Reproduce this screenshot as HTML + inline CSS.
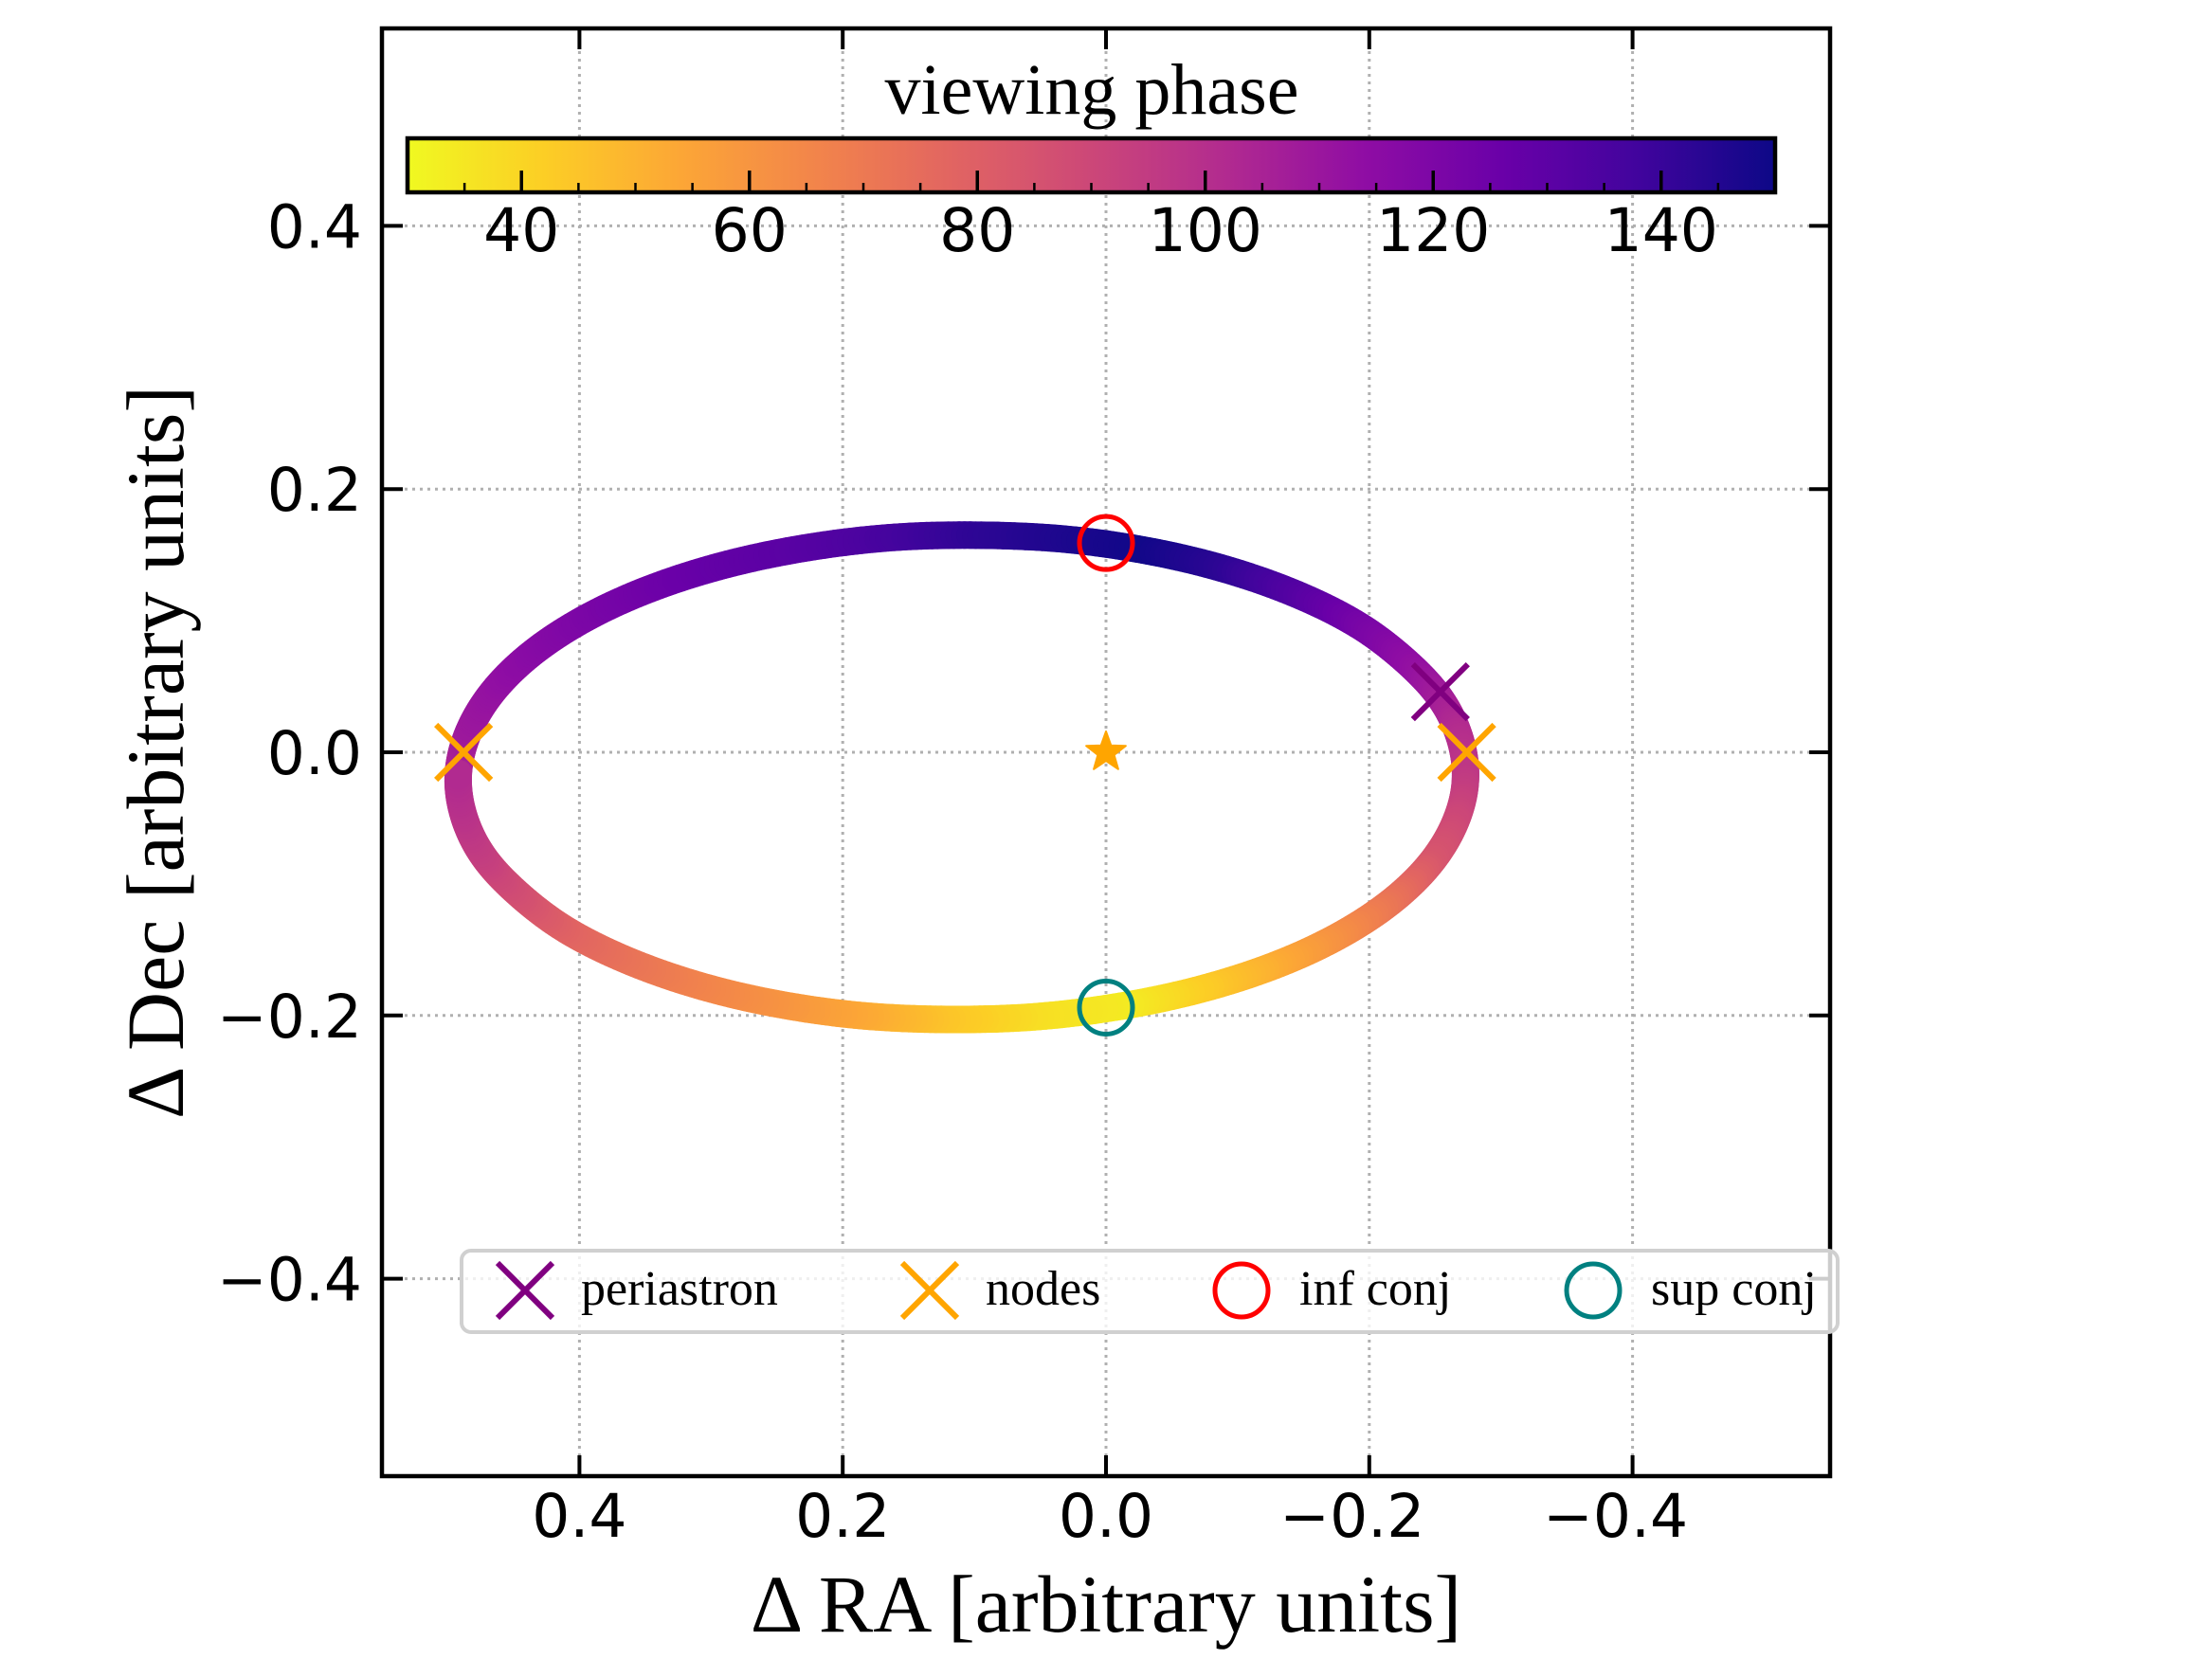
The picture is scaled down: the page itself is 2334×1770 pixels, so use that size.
<!DOCTYPE html>
<html><head><meta charset="utf-8"><style>
html,body{margin:0;padding:0;background:#fff;}
svg{display:block;}
</style></head><body>
<svg id="chart" width="2334" height="1770" viewBox="0 0 2334 1770" xmlns="http://www.w3.org/2000/svg">
<rect width="2334" height="1770" fill="#fff"/>
<g id="grid"></g>
<g id="orbit"></g>
<g id="markers"></g>
<g id="cbar"></g>
<g id="axes"></g>
<g id="legend"></g>
</svg>
<script>
// ---- data ----
const orbitRA = [0.492, 0.484, 0.465, 0.435, 0.395, 0.347, 0.291, 0.230, 0.165, 0.099, 0.032, -0.032, -0.091, -0.145, -0.191, -0.227, -0.254, -0.269, -0.273, -0.265, -0.246, -0.216, -0.176, -0.128, -0.072, -0.011, 0.054, 0.121, 0.187, 0.251, 0.310, 0.364, 0.410, 0.446, 0.473, 0.488];
const orbitDec = [-0.016, 0.016, 0.047, 0.076, 0.102, 0.124, 0.142, 0.155, 0.163, 0.165, 0.162, 0.153, 0.139, 0.120, 0.097, 0.070, 0.041, 0.010, -0.022, -0.054, -0.085, -0.114, -0.140, -0.162, -0.180, -0.193, -0.201, -0.203, -0.200, -0.191, -0.177, -0.158, -0.135, -0.108, -0.079, -0.048];
const orbitPhase = [102, 109, 112, 116, 120, 124, 128, 131, 136, 142, 146, 149, 143, 133, 123, 115, 108, 101, 96, 90, 84, 73, 63, 53, 43, 34, 37, 44, 53, 60, 66, 72, 78, 86, 93, 98];
const nodesRA = [0.488, -0.274];
const nodesDec = [0.0, 0.0];
const periRA = [-0.254];
const periDec = [0.046];
const infRA = [0.0];
const infDec = [0.159];
const supRA = [0.0];
const supDec = [-0.194];
const starRA = [0.0];
const starDec = [0.0];
const xTicks = [0.4, 0.2, 0.0, -0.2, -0.4];
const xTickLabels = ["0.4", "0.2", "0.0", "\u22120.2", "\u22120.4"];
const yTicks = [0.4, 0.2, 0.0, -0.2, -0.4];
const yTickLabels = ["0.4", "0.2", "0.0", "\u22120.2", "\u22120.4"];
const cbTicks = [40, 60, 80, 100, 120, 140];
const cbTickLabels = ["40", "60", "80", "100", "120", "140"];
const cbMin = 30, cbMax = 150;
const legendLabels = ["periastron", "nodes", "inf conj", "sup conj"];

// ---- layout ----
const L = 403, R = 1931, T = 30, B = 1558;
const X0 = 1167, Y0 = 794, S = 1389;
const xs = v => X0 - v * S;
const ys = v => Y0 - v * S;
const NS = "http://www.w3.org/2000/svg";
function mk(tag, attrs, parent) {
  const e = document.createElementNS(NS, tag);
  for (const k in attrs) e.setAttribute(k, attrs[k]);
  parent.appendChild(e);
  return e;
}
const plasma = [[0,13,8,135],[0.1,65,4,157],[0.2,106,0,168],[0.3,143,13,164],[0.4,177,42,144],[0.5,204,71,120],[0.6,225,100,98],[0.7,242,132,75],[0.8,252,166,54],[0.9,252,206,37],[1,240,249,33]];
function cmap(p) {
  let t = (cbMax - p) / (cbMax - cbMin);
  t = Math.max(0, Math.min(1, t));
  for (let i = 0; i < plasma.length - 1; i++) {
    const a = plasma[i], b = plasma[i + 1];
    if (t <= b[0]) {
      const f = (t - a[0]) / (b[0] - a[0]);
      return `rgb(${Math.round(a[1] + f * (b[1] - a[1]))},${Math.round(a[2] + f * (b[2] - a[2]))},${Math.round(a[3] + f * (b[3] - a[3]))})`;
    }
  }
  return "rgb(240,249,33)";
}

// ---- grid ----
const grid = document.getElementById("grid");
xTicks.forEach(v => {
  const g = mk("line", {x1: xs(v), x2: xs(v), y1: T, y2: B, stroke: "#b0b0b0", "stroke-width": 3, "stroke-dasharray": "3,5"}, grid);
  
  
});
yTicks.forEach(v => {
  const g = mk("line", {x1: L, x2: R, y1: ys(v), y2: ys(v), stroke: "#b0b0b0", "stroke-width": 3, "stroke-dasharray": "3,5"}, grid);
  
  
});

// ---- orbit (closed Catmull-Rom) ----
const orbit = document.getElementById("orbit");
const n = orbitRA.length;
const STEPS = 16;
for (let i = 0; i < n; i++) {
  const p0 = (i - 1 + n) % n, p1 = i, p2 = (i + 1) % n, p3 = (i + 2) % n;
  const px = [xs(orbitRA[p0]), xs(orbitRA[p1]), xs(orbitRA[p2]), xs(orbitRA[p3])];
  const py = [ys(orbitDec[p0]), ys(orbitDec[p1]), ys(orbitDec[p2]), ys(orbitDec[p3])];
  const cr = (a, t) => 0.5 * ((2 * a[1]) + (-a[0] + a[2]) * t + (2 * a[0] - 5 * a[1] + 4 * a[2] - a[3]) * t * t + (-a[0] + 3 * a[1] - 3 * a[2] + a[3]) * t * t * t);
  let prevX = cr(px, 0), prevY = cr(py, 0);
  for (let s = 1; s <= STEPS; s++) {
    const t = s / STEPS;
    const cx = cr(px, t), cy = cr(py, t);
    const ph = orbitPhase[p1] + (orbitPhase[p2] - orbitPhase[p1]) * (t - 0.5 / STEPS);
    const seg = mk("line", {x1: prevX, y1: prevY, x2: cx, y2: cy, stroke: cmap(ph), "stroke-width": 29, "stroke-linecap": "round"}, orbit);
    
    
    prevX = cx; prevY = cy;
  }
}

// ---- markers ----
const mg = document.getElementById("markers");
function xMark(cx, cy, color, parent, name) {
  const g = mk("g", {}, parent);
  
  
  const h = 29;
  mk("line", {x1: cx - h, y1: cy - h, x2: cx + h, y2: cy + h, stroke: color, "stroke-width": 6}, g);
  mk("line", {x1: cx - h, y1: cy + h, x2: cx + h, y2: cy - h, stroke: color, "stroke-width": 6}, g);
}
function oMark(cx, cy, color, parent, name) {
  const c = mk("circle", {cx: cx, cy: cy, r: 28, fill: "none", stroke: color, "stroke-width": 5}, parent);
  
  
}
periRA.forEach((v, i) => xMark(xs(v), ys(periDec[i]), "#800080", mg, "periastron-marker"));
nodesRA.forEach((v, i) => xMark(xs(v), ys(nodesDec[i]), "#ffa500", mg, "node-marker"));
infRA.forEach((v, i) => oMark(xs(v), ys(infDec[i]), "#ff0000", mg, "inf-conj-marker"));
supRA.forEach((v, i) => oMark(xs(v), ys(supDec[i]), "#008080", mg, "sup-conj-marker"));
starRA.forEach((v, i) => {
  const cx = xs(v), cy = ys(starDec[i]), ro = 22, ri = 9;
  let pts = [];
  for (let k = 0; k < 10; k++) {
    const a = -Math.PI / 2 + k * Math.PI / 5, r = k % 2 ? ri : ro;
    pts.push((cx + r * Math.cos(a)).toFixed(1) + "," + (cy + r * Math.sin(a)).toFixed(1));
  }
  const st = mk("polygon", {points: pts.join(" "), fill: "#ffa500", stroke: "#ffa500", "stroke-width": 2, "stroke-linejoin": "round"}, mg);
  
  
});

// ---- colorbar ----
const cb = document.getElementById("cbar");
const CBL = 430, CBR = 1873, CBT = 146, CBB = 203;
const cbx = v => CBL + (v - cbMin) / (cbMax - cbMin) * (CBR - CBL);
const defs = mk("defs", {}, cb);
const grad = mk("linearGradient", {id: "cbgrad", x1: "0", x2: "1", y1: "0", y2: "0"}, defs);
for (let k = 0; k <= 20; k++) {
  const p = cbMin + (cbMax - cbMin) * k / 20;
  mk("stop", {offset: (k / 20).toFixed(3), "stop-color": cmap(p)}, grad);
}
const cbr = mk("rect", {x: CBL, y: CBT, width: CBR - CBL, height: CBB - CBT, fill: "url(#cbgrad)", stroke: "#000", "stroke-width": 4.5}, cb);


for (let v = 35; v < cbMax; v += 5) {
  const major = v % 20 === 0;
  mk("line", {x1: cbx(v), x2: cbx(v), y1: CBB, y2: CBB - (major ? 23 : 10), stroke: "#000", "stroke-width": major ? 3.5 : 2.5}, cb);
}
cbTicks.forEach((v, i) => {
  const t = mk("text", {x: cbx(v), y: 265, "text-anchor": "middle", "font-family": "DejaVu Sans, Liberation Sans, sans-serif", "font-size": 63, fill: "#000"}, cb);
  t.textContent = cbTickLabels[i];
  
  
});
const cbt = mk("text", {x: 1152, y: 120, "text-anchor": "middle", "font-family": "Liberation Serif, serif", "font-size": 76, fill: "#000"}, cb);
cbt.textContent = "viewing phase";



// ---- axes ----
const ax = document.getElementById("axes");
const frame = mk("rect", {x: L, y: T, width: R - L, height: B - T, fill: "none", stroke: "#000", "stroke-width": 4.5}, ax);


xTicks.forEach((v, i) => {
  mk("line", {x1: xs(v), x2: xs(v), y1: B, y2: B - 22, stroke: "#000", "stroke-width": 4}, ax);
  mk("line", {x1: xs(v), x2: xs(v), y1: T, y2: T + 22, stroke: "#000", "stroke-width": 4}, ax);
  const t = mk("text", {x: xs(v) - (xTickLabels[i].startsWith("\u2212") ? 18 : 0), y: 1622, "text-anchor": "middle", "font-family": "DejaVu Sans, Liberation Sans, sans-serif", "font-size": 63, fill: "#000"}, ax);
  t.textContent = xTickLabels[i];
  
  
});
yTicks.forEach((v, i) => {
  mk("line", {x1: L, x2: L + 22, y1: ys(v), y2: ys(v), stroke: "#000", "stroke-width": 4}, ax);
  mk("line", {x1: R, x2: R - 22, y1: ys(v), y2: ys(v), stroke: "#000", "stroke-width": 4}, ax);
  const t = mk("text", {x: 382, y: ys(v) + 23, "text-anchor": "end", "font-family": "DejaVu Sans, Liberation Sans, sans-serif", "font-size": 63, fill: "#000"}, ax);
  t.textContent = yTickLabels[i];
  
  
});
const xl = mk("text", {x: 1167, y: 1722, "text-anchor": "middle", "font-family": "Liberation Serif, serif", "font-size": 86, fill: "#000"}, ax);
xl.textContent = "\u0394 RA [arbitrary units]";


const yl = mk("text", {x: 0, y: 0, transform: "translate(193,794) rotate(-90)", "text-anchor": "middle", "font-family": "Liberation Serif, serif", "font-size": 86, fill: "#000"}, ax);
yl.textContent = "\u0394 Dec [arbitrary units]";



// ---- legend ----
const lg = document.getElementById("legend");
const lb = mk("rect", {x: 487, y: 1320, width: 1452, height: 86, rx: 10, fill: "rgba(255,255,255,0.8)", stroke: "#d0d0d0", "stroke-width": 4}, lg);


const legMarkX = [554, 981, 1310, 1681];
const legTextX = [613, 1040, 1371, 1742];
const LY = 1362;
xMark(legMarkX[0], LY, "#800080", lg, "legend-periastron-marker");
xMark(legMarkX[1], LY, "#ffa500", lg, "legend-nodes-marker");
oMark(legMarkX[2], LY, "#ff0000", lg, "legend-inf-conj-marker");
oMark(legMarkX[3], LY, "#008080", lg, "legend-sup-conj-marker");
legendLabels.forEach((s, i) => {
  const t = mk("text", {x: legTextX[i], y: LY + 15, "font-family": "Liberation Serif, serif", "font-size": 52, fill: "#000"}, lg);
  t.textContent = s;
  
  
});
</script>
</body></html>
